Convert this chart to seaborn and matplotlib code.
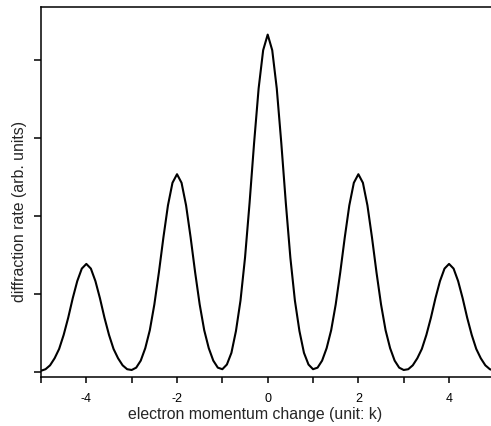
import numpy as np
import pandas as pd
import matplotlib
matplotlib.use('Agg')
import matplotlib.pyplot as plt
import seaborn as sns

# momentum change (units of k) and diffraction rate
momentum = [-5.0, -4.9, -4.8, -4.7, -4.6, -4.5, -4.4, -4.3, -4.2, -4.1,
            -4.0, -3.9, -3.8, -3.7, -3.6, -3.5, -3.4, -3.3, -3.2, -3.1,
            -3.0, -2.9, -2.8, -2.7, -2.6, -2.5, -2.4, -2.3, -2.2, -2.1,
            -2.0, -1.9, -1.8, -1.7, -1.6, -1.5, -1.4, -1.3, -1.2, -1.1,
            -1.0, -0.9, -0.8, -0.7, -0.6, -0.5, -0.4, -0.3, -0.2, -0.1,
            0.0, 0.1, 0.2, 0.3, 0.4, 0.5, 0.6, 0.7, 0.8, 0.9,
            1.0, 1.1, 1.2, 1.3, 1.4, 1.5, 1.6, 1.7, 1.8, 1.9,
            2.0, 2.1, 2.2, 2.3, 2.4, 2.5, 2.6, 2.7, 2.8, 2.9,
            3.0, 3.1, 3.2, 3.3, 3.4, 3.5, 3.6, 3.7, 3.8, 3.9,
            4.0, 4.1, 4.2, 4.3, 4.4, 4.5, 4.6, 4.7, 4.8, 4.9, 5.0]
rate = [0.01, 0.03, 0.08, 0.17, 0.29, 0.47, 0.69, 0.94, 1.16, 1.32,
        1.38, 1.32, 1.16, 0.94, 0.69, 0.47, 0.29, 0.17, 0.08, 0.03,
        0.02, 0.05, 0.14, 0.30, 0.53, 0.86, 1.27, 1.72, 2.13, 2.42,
        2.53, 2.42, 2.13, 1.72, 1.27, 0.86, 0.53, 0.30, 0.14, 0.05,
        0.03, 0.09, 0.24, 0.52, 0.91, 1.46, 2.16, 2.93, 3.63, 4.12,
        4.32, 4.12, 3.63, 2.93, 2.16, 1.46, 0.91, 0.52, 0.24, 0.09,
        0.03, 0.05, 0.14, 0.30, 0.53, 0.86, 1.27, 1.72, 2.13, 2.42,
        2.53, 2.42, 2.13, 1.72, 1.27, 0.86, 0.53, 0.30, 0.14, 0.05,
        0.02, 0.03, 0.08, 0.17, 0.29, 0.47, 0.69, 0.94, 1.16, 1.32,
        1.38, 1.32, 1.16, 0.94, 0.69, 0.47, 0.29, 0.17, 0.08, 0.03, 0.01]

x_ticks = [-5, -4, -3, -2, -1, 0, 1, 2, 3, 4, 5]
x_tick_labels = ['', '-4', '', '-2', '', '0', '', '2', '', '4', '']
y_ticks = [0, 1, 2, 3, 4]

df = pd.DataFrame({'momentum': momentum, 'rate': rate})

sns.set_style('ticks')
plt.rcParams['font.family'] = ['Liberation Sans', 'DejaVu Sans']

fig = plt.figure(figsize=(4.91, 4.26), dpi=100)
# right edge of the box lies just past the image border, like the cropped original
ax = fig.add_axes([0.0835, 0.115, 0.9234, 0.8697])

sns.lineplot(data=df, x='momentum', y='rate', color='black', linewidth=1.5, ax=ax)

ax.set_xlim(-5, 5)
ax.set_ylim(-0.07, 4.68)
ax.set_xticks(x_ticks)
ax.set_xticklabels(x_tick_labels)
ax.set_yticks(y_ticks)
ax.set_yticklabels([])

for s in ax.spines.values():
    s.set_linewidth(1.1)
    s.set_color('black')
ax.tick_params(axis='x', length=4.5, width=1.1, pad=7, labelsize=9, colors='black')
ax.tick_params(axis='y', length=5, width=1.1, colors='black')

ax.set_xlabel('electron momentum change (unit: k)', fontsize=11.4)
ax.set_ylabel('diffraction rate (arb. units)', fontsize=11.4)
ax.xaxis.set_label_coords(0.472, -0.08)
ax.yaxis.set_label_coords(-0.03, 0.446)

fig.savefig('out.png', dpi=100)
